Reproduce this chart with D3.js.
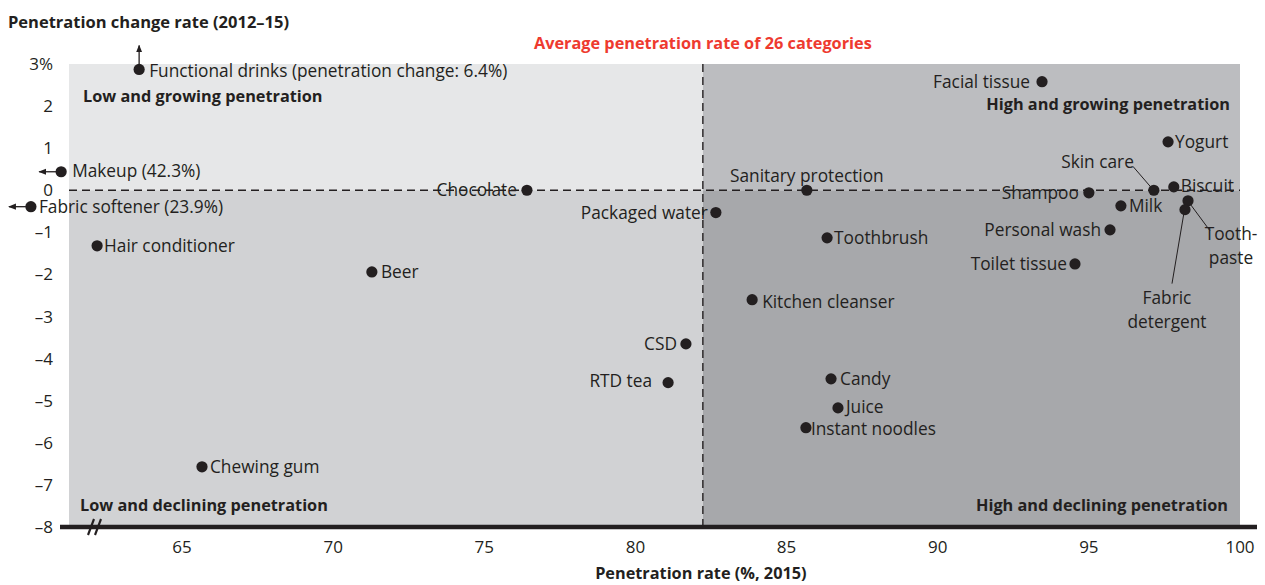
<!DOCTYPE html>
<html><head><meta charset="utf-8">
<script src="https://cdn.jsdelivr.net/npm/d3@7"></script>
<style>
html,body{margin:0;padding:0;background:#fff;}
svg{display:block;font-family:"Open Sans","Noto Sans",sans-serif;}
</style></head>
<body><svg id="chart" width="1265" height="585"></svg>
<script>
// ---- data ----
const categories = ["Functional drinks (penetration change: 6.4%)","Makeup (42.3%)","Fabric softener (23.9%)",
  "Hair conditioner","Beer","Chocolate","Packaged water","Sanitary protection","Toothbrush","Kitchen cleanser",
  "CSD","RTD tea","Candy","Juice","Instant noodles","Chewing gum","Facial tissue","Yogurt","Skin care",
  "Biscuit","Shampoo","Milk","Personal wash","Toilet tissue","Tooth-paste","Fabric detergent"];
const penetration = [63.58,61.0,60.0,62.19,71.28,76.41,82.66,85.67,86.34,83.86,
  81.67,81.08,86.47,86.70,85.64,65.66,93.45,97.62,97.15,97.81,95.0,96.06,95.70,94.54,98.28,98.18];
const changeRate = [2.87,0.44,-0.39,-1.32,-1.94,0.0,-0.53,0.0,-1.13,-2.60,
  -3.65,-4.57,-4.48,-5.17,-5.64,-6.57,2.58,1.15,0.0,0.08,-0.06,-0.37,-0.94,-1.75,-0.25,-0.46];
const avgPenetration = 82.23;
const xTicks = [65,70,75,80,85,90,95,100];
const yTicks = [3,2,1,0,-1,-2,-3,-4,-5,-6,-7,-8];
const yTickLabels = ["3%","2","1","0","–1","–2","–3","–4","–5","–6","–7","–8"];
const xDomain = [61.26,100];
const yDomain = [-8,3];

// ---- label layout (styling, not data) ----
const layout = {
  "Functional drinks (penetration change: 6.4%)":{a:"start",dx:10,dy:2,arrow:"up"},
  "Makeup (42.3%)":{a:"start",dx:11,dy:-1,arrow:"left"},
  "Fabric softener (23.9%)":{a:"start",dx:8,dy:0,arrow:"left"},
  "Hair conditioner":{a:"start",dx:7,dy:0},
  "Beer":{a:"start",dx:9,dy:0},
  "Chocolate":{a:"end",dx:-10,dy:0},
  "Packaged water":{a:"end",dx:-8,dy:0},
  "Sanitary protection":{a:"middle",dx:0,dy:-14},
  "Toothbrush":{a:"start",dx:7,dy:0},
  "Kitchen cleanser":{a:"start",dx:10,dy:2},
  "CSD":{a:"end",dx:-9,dy:0},
  "RTD tea":{a:"end",dx:-16,dy:-2},
  "Candy":{a:"start",dx:9,dy:0},
  "Juice":{a:"start",dx:8,dy:-1},
  "Instant noodles":{a:"start",dx:5,dy:1},
  "Chewing gum":{a:"start",dx:8,dy:0},
  "Facial tissue":{a:"end",dx:-12,dy:0},
  "Yogurt":{a:"start",dx:7,dy:0},
  "Skin care":{a:"end",dx:-20,dy:-28,leader:[-21,-24,-2,-2]},
  "Biscuit":{a:"start",dx:7,dy:-1},
  "Shampoo":{a:"end",dx:-10,dy:0},
  "Milk":{a:"start",dx:8,dy:0},
  "Personal wash":{a:"end",dx:-9,dy:0},
  "Toilet tissue":{a:"end",dx:-8,dy:0},
  "Tooth-paste":{a:"middle",dx:43,dy:45,lines:["Tooth-","paste"],leader:[2,3,22,30]},
  "Fabric detergent":{a:"middle",dx:-18,dy:100,lines:["Fabric","detergent"],leader:[-1,3,-13,74]}
};

const ink = "#231f20";
const svg = d3.select("#chart");
const x = d3.scaleLinear().domain(xDomain).range([69,1240]);
const y = d3.scaleLinear().domain(yDomain).range([527,64]);

// quadrants
const quads = [
  {x0:xDomain[0],x1:avgPenetration,y0:0,y1:yDomain[1],c:"#e6e7e8"},
  {x0:avgPenetration,x1:xDomain[1],y0:0,y1:yDomain[1],c:"#bcbdc0"},
  {x0:xDomain[0],x1:avgPenetration,y0:yDomain[0],y1:0,c:"#d1d2d4"},
  {x0:avgPenetration,x1:xDomain[1],y0:yDomain[0],y1:0,c:"#a7a8ab"}
];
svg.append("g").selectAll("rect").data(quads).join("rect")
  .attr("x",d=>x(d.x0)).attr("width",d=>x(d.x1)-x(d.x0))
  .attr("y",d=>y(d.y1)).attr("height",d=>y(d.y0)-y(d.y1)).attr("fill",d=>d.c);

// dashed reference lines
svg.append("line").attr("x1",x(xDomain[0])).attr("x2",x(xDomain[1])).attr("y1",y(0)).attr("y2",y(0))
  .attr("stroke",ink).attr("stroke-width",1.4).attr("stroke-dasharray","8,5");
svg.append("line").attr("x1",x(avgPenetration)).attr("x2",x(avgPenetration)).attr("y1",y(yDomain[1])).attr("y2",y(yDomain[0]))
  .attr("stroke",ink).attr("stroke-width",1.4).attr("stroke-dasharray","8,5");

// quadrant titles
const qt = svg.append("g").attr("font-weight",700).attr("font-size",16.3).attr("fill",ink);
qt.append("text").attr("x",83).attr("y",102).text("Low and growing penetration");
qt.append("text").attr("x",1230).attr("y",110).attr("text-anchor","end").text("High and growing penetration");
qt.append("text").attr("x",80).attr("y",511).text("Low and declining penetration");
qt.append("text").attr("x",1228).attr("y",511).attr("text-anchor","end").text("High and declining penetration");

// x axis line
svg.append("line").attr("x1",60).attr("x2",1257).attr("y1",y(yDomain[0])).attr("y2",y(yDomain[0]))
  .attr("stroke",ink).attr("stroke-width",4.5);
// axis break mark
const bk = svg.append("g").attr("stroke",ink).attr("stroke-width",2.2);
[0,7].forEach(o=>bk.append("line").attr("x1",88+o).attr("y1",535).attr("x2",94+o).attr("y2",519));

// ticks
const xa = svg.append("g").attr("font-size",17).attr("fill",ink).attr("text-anchor","middle");
xa.selectAll("text").data(xTicks).join("text").attr("x",d=>x(d)).attr("y",553).text(d=>d);
const ya = svg.append("g").attr("font-size",17).attr("fill",ink).attr("text-anchor","end");
ya.selectAll("text").data(yTicks).join("text").attr("x",53).attr("y",d=>y(d)+6).text((d,i)=>yTickLabels[i]);

// titles
svg.append("text").attr("x",8).attr("y",28).attr("font-weight",700).attr("font-size",16.5).attr("fill",ink)
  .text("Penetration change rate (2012–15)");
svg.append("text").attr("x",x(avgPenetration)).attr("y",49).attr("text-anchor","middle").attr("font-weight",700)
  .attr("font-size",16.3).attr("fill","#ee3a2f").text("Average penetration rate of 26 categories");
svg.append("text").attr("x",x(avgPenetration)-2).attr("y",579).attr("text-anchor","middle").attr("font-weight",700)
  .attr("font-size",16.3).attr("fill",ink).text("Penetration rate (%, 2015)");

// points
const pts = categories.map((c,i)=>({name:c,px:x(penetration[i]),py:y(changeRate[i]),L:layout[c]}));
const g = svg.append("g");
// leaders
pts.filter(p=>p.L.leader).forEach(p=>{
  const l=p.L.leader;
  g.append("line").attr("x1",p.px+l[0]).attr("y1",p.py+l[1]).attr("x2",p.px+l[2]).attr("y2",p.py+l[3])
   .attr("stroke",ink).attr("stroke-width",1);
});
// arrows
svg.append("defs").append("marker").attr("id","ah").attr("viewBox","0 0 10 10").attr("refX",9).attr("refY",5)
  .attr("markerWidth",6).attr("markerHeight",6).attr("orient","auto-start-reverse")
  .append("path").attr("d","M0,1 L10,5 L0,9 Z").attr("fill",ink);
pts.filter(p=>p.L.arrow).forEach(p=>{
  if(p.L.arrow==="up"){
    g.append("line").attr("x1",p.px).attr("x2",p.px).attr("y1",p.py-5).attr("y2",p.py-24)
     .attr("stroke",ink).attr("stroke-width",1.3).attr("marker-end","url(#ah)");
  } else {
    g.append("line").attr("y1",p.py).attr("y2",p.py).attr("x1",p.px-5).attr("x2",p.px-22)
     .attr("stroke",ink).attr("stroke-width",1.3).attr("marker-end","url(#ah)");
  }
});
g.selectAll("circle").data(pts).join("circle").attr("cx",d=>d.px).attr("cy",d=>d.py).attr("r",5.6).attr("fill",ink);
// labels
const lab = svg.append("g").attr("font-size",17.3).attr("fill",ink);
pts.forEach(p=>{
  const t = lab.append("text").attr("text-anchor",p.L.a);
  const lines = p.L.lines || [p.name];
  lines.forEach((s,k)=>{
    t.append("tspan").attr("x",p.px+p.L.dx).attr("y",p.py+p.L.dy+6+(k-(lines.length-1)/2)*24).text(s);
  });
});
</script></body></html>
